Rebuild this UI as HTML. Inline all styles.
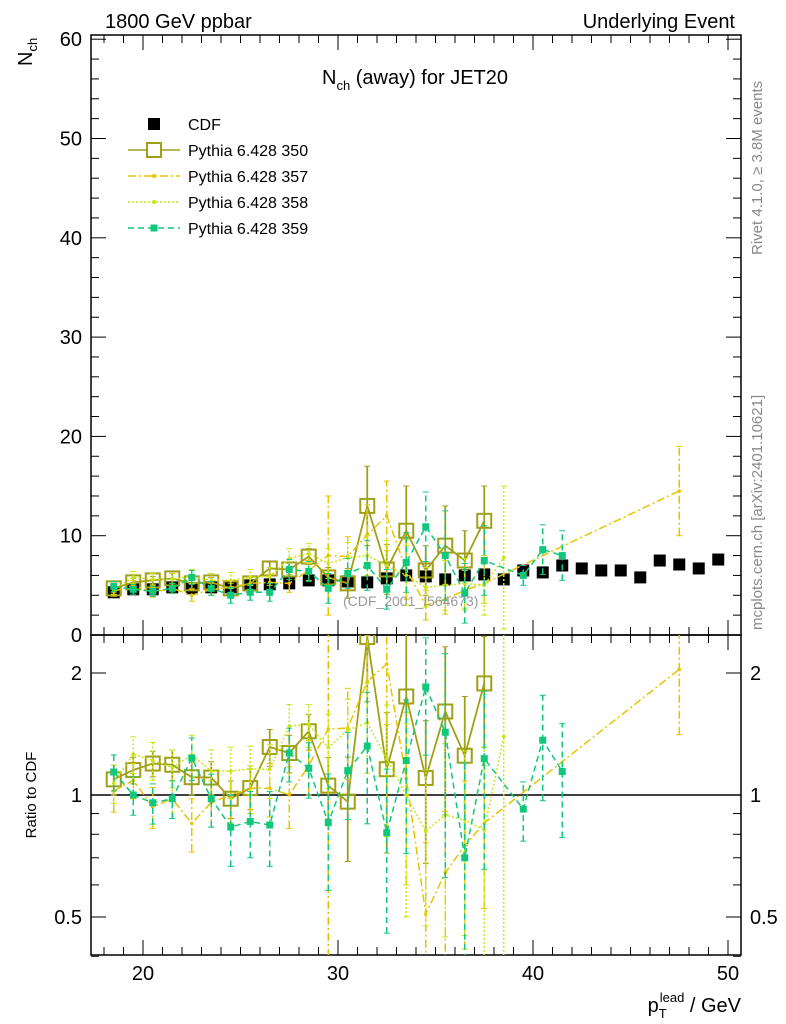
<!DOCTYPE html>
<html><head><meta charset="utf-8"><style>html,body{margin:0;padding:0;background:#fff;width:786px;height:1024px;overflow:hidden}svg{display:block;font-family:"Liberation Sans",sans-serif}</style></head>
<body>
<svg id="chart" width="786" height="1024" viewBox="0 0 786 1024">
<defs>
<clipPath id="cm"><rect x="91" y="35" width="650" height="600"/></clipPath>
<clipPath id="cr"><rect x="91" y="635" width="650" height="320"/></clipPath>
</defs>
<g id="main"></g>
<g id="ratio"></g>
<text x="105" y="28" font-size="20">1800 GeV ppbar</text>
<text x="735" y="28" font-size="20" text-anchor="end">Underlying Event</text>
<text transform="translate(32,66) rotate(-90)" font-size="20">N<tspan font-size="13" dy="5">ch</tspan></text>
<text x="415" y="84" font-size="20" text-anchor="middle">N<tspan font-size="13" dy="6">ch</tspan><tspan dy="-6"> (away) for JET20</tspan></text>
<text x="343" y="606" font-size="14" fill="#999">(CDF_2001_I564673)</text>
<text transform="translate(762,255) rotate(-90)" font-size="15" fill="#888">Rivet 4.1.0, ≥ 3.8M events</text>
<text transform="translate(762,630) rotate(-90)" font-size="15" fill="#888">mcplots.cern.ch [arXiv:2401.10621]</text>
<text transform="translate(36,795) rotate(-90)" font-size="15" text-anchor="middle">Ratio to CDF</text>
<text x="741" y="1012" font-size="20" text-anchor="end">p<tspan font-size="13" dy="6">T</tspan><tspan font-size="13" dx="-7" dy="-16">lead</tspan><tspan dy="10"> / GeV</tspan></text>
<g id="legend"></g>
</svg>
<script>
const xs=[18.5,19.5,20.5,21.5,22.5,23.5,24.5,25.5,26.5,27.5,28.5,29.5,30.5,31.5,32.5,33.5,34.5,35.5,36.5,37.5,38.5,39.5,40.5,41.5,42.5,43.5,44.5,45.5,46.5,47.5,48.5,49.5];
const cdf=[4.3,4.6,4.6,4.8,4.7,4.8,4.8,5.0,5.1,5.2,5.5,5.5,5.4,5.3,5.7,6.0,5.9,5.6,6.0,6.1,5.6,6.5,6.3,7.0,6.7,6.5,6.5,5.8,7.5,7.1,6.7,7.6];
const p350=[4.7,5.3,5.5,5.7,5.2,5.3,4.7,5.2,6.7,6.6,7.9,5.8,5.2,13.0,6.6,10.5,6.5,9.0,7.5,11.5,null,null,null,null,null,null,null,null,null,null,null,null];
const e350=[0.4,0.4,0.4,0.5,0.5,0.5,0.5,0.6,0.7,0.7,0.8,1.0,1.5,4.0,2.5,4.5,2.5,4.0,3.0,3.5,0,0,0,0,0,0,0,0,0,0,0,0];
const p357=[4.4,5.0,4.3,4.7,4.0,4.6,4.8,5.2,5.3,5.2,6.5,8.0,7.9,10.1,12.0,6.6,3.0,3.6,4.5,5.2,null,null,null,null,null,null,null,null,null,14.5,null,null];
const e357=[0.5,0.5,0.5,0.5,0.6,0.6,0.7,0.7,0.8,0.9,1.0,6.0,2.0,3.0,3.5,3.0,1.5,1.5,2.0,2.0,0,0,0,0,0,0,0,0,0,4.5,0,0];
const p358=[4.6,5.8,5.6,5.6,5.9,5.5,5.5,5.8,5.9,7.7,8.2,7.2,7.8,8.0,7.0,6.0,4.8,5.0,5.2,5.0,7.8,null,null,null,null,null,null,null,null,null,null,null];
const e358=[0.5,0.6,0.6,0.6,0.7,0.7,0.8,0.8,0.9,1.0,1.0,1.5,1.5,2.0,2.5,3.0,2.0,2.5,2.5,3.0,7.2,0,0,0,0,0,0,0,0,0,0,0];
const p359=[4.9,4.6,4.4,4.7,5.8,4.7,4.0,4.3,4.3,6.6,6.4,4.7,6.2,7.0,4.6,7.3,10.9,8.0,4.2,7.5,null,6.0,8.6,8.0,null,null,null,null,null,null,null,null];
const e359=[0.5,0.5,0.5,0.5,0.7,0.7,0.8,0.8,0.9,1.0,1.0,1.5,1.5,2.5,2.0,3.0,3.5,4.5,3.0,3.5,0,1.0,2.5,2.5,0,0,0,0,0,0,0,0];
const yTicks=[0,10,20,30,40,50,60];
const xTicks=[20,30,40,50];
const rTicks=[0.5,1,2];
const NS="http://www.w3.org/2000/svg";
const px=v=>143+(v-20)*19.5;
const py=v=>635-Math.max(-0.5,Math.min(62,v))*9.93;
const ry=r=>795-Math.log2(Math.max(0.35,Math.min(2.6,r)))*122;
function mk(t,a,p){const e=document.createElementNS(NS,t);for(const k in a)e.setAttribute(k,a[k]);(p||document.getElementById('chart')).appendChild(e);return e;}
const main=document.getElementById('main'),ratio=document.getElementById('ratio');
let f=mk('rect',{x:91,y:35,width:650,height:600,fill:'none',stroke:'#000','stroke-width':1.5},main);


f=mk('rect',{x:91,y:635,width:650,height:320,fill:'none',stroke:'#000','stroke-width':1.5},ratio);


for(let v=0;v<=60;v+=2){const y=py(v),L=v%10===0?15:8;mk('line',{x1:91,x2:91+L,y1:y,y2:y,stroke:'#000'},main);mk('line',{x1:741,x2:741-L,y1:y,y2:y,stroke:'#000'},main);}
yTicks.forEach(v=>{const t=mk('text',{x:82,y:py(v)+7,'font-size':20,'text-anchor':'end'},main);t.textContent=v;

});
for(let v=18;v<=50;v++){const x=px(v),L=v%10===0?15:8;mk('line',{x1:x,x2:x,y1:955,y2:955-L,stroke:'#000'});mk('line',{x1:x,x2:x,y1:635,y2:635-L,stroke:'#000'});mk('line',{x1:x,x2:x,y1:35,y2:35+L,stroke:'#000'});mk('line',{x1:x,x2:x,y1:635,y2:635+L,stroke:'#000'});}
xTicks.forEach(v=>{const t=mk('text',{x:px(v),y:980,'font-size':20,'text-anchor':'middle'});t.textContent=v;

});
[0.4,0.5,0.6,0.7,0.8,0.9,1,2].forEach(r=>{const y=ry(r),L=(r===0.5||r===1||r===2)?15:8;mk('line',{x1:91,x2:91+L,y1:y,y2:y,stroke:'#000'},ratio);mk('line',{x1:741,x2:741-L,y1:y,y2:y,stroke:'#000'},ratio);});
rTicks.forEach(r=>{let t=mk('text',{x:82,y:ry(r)+7,'font-size':20,'text-anchor':'end'},ratio);t.textContent=r;


t=mk('text',{x:750,y:ry(r)+7,'font-size':20},ratio);t.textContent=r;

});
mk('line',{x1:91,x2:741,y1:ry(1),y2:ry(1),stroke:'#000','stroke-width':1.5},ratio);
const gm=mk('g',{'clip-path':'url(#cm)'},main),gr=mk('g',{'clip-path':'url(#cr)'},ratio);
const series=[
{n:'pythia-350',v:p350,e:e350,c:'#a0a018',d:'',m:'open',w:1.8},
{n:'pythia-357',v:p357,e:e357,c:'#e8c400',d:'8,3,2,3',m:'dot',w:1.5},
{n:'pythia-358',v:p358,e:e358,c:'#c8e614',d:'2,2',m:'dot',w:1.5},
{n:'pythia-359',v:p359,e:e359,c:'#10c87c',d:'6,4',m:'sq',w:1.5}];
function drawSeries(s,g,fy,ratioMode){
 let pts=[];
 xs.forEach((x,i)=>{let v=s.v[i];if(v==null)return;let e=s.e[i];
  let val=ratioMode?v/cdf[i]:v,lo=ratioMode?Math.max(v-e,0.01)/cdf[i]:v-e,hi=ratioMode?(v+e)/cdf[i]:v+e;
  pts.push([px(x),fy(val)]);
  const eb=mk('line',{x1:px(x),x2:px(x),y1:fy(lo),y2:fy(hi),stroke:s.c,'stroke-width':s.w,'stroke-dasharray':s.d},g);
  
  
  [lo,hi].forEach(q=>mk('line',{x1:px(x)-3,x2:px(x)+3,y1:fy(q),y2:fy(q),stroke:s.c},g));});
 const pl=mk('polyline',{points:pts.map(p=>p.join(',')).join(' '),fill:'none',stroke:s.c,'stroke-width':s.w,'stroke-dasharray':s.d},g);
 
 
 pts.forEach(p=>{let m;
  if(s.m==='open')m=mk('rect',{x:p[0]-7,y:p[1]-7,width:14,height:14,fill:'none',stroke:s.c,'stroke-width':2},g);
  else if(s.m==='sq')m=mk('rect',{x:p[0]-3.5,y:p[1]-3.5,width:7,height:7,fill:s.c},g);
  else m=mk('circle',{cx:p[0],cy:p[1],r:1.8,fill:s.c},g);
  
  });
}
xs.forEach((x,i)=>{const m=mk('rect',{x:px(x)-6,y:py(cdf[i])-6,width:12,height:12,fill:'#000'},gm);

});
series.forEach(s=>{drawSeries(s,gm,py,false);drawSeries(s,gr,ry,true);});
const lg=document.getElementById('legend');
const le=[['CDF','#000','',null],['Pythia 6.428 350',series[0].c,'','open'],['Pythia 6.428 357',series[1].c,series[1].d,'dot'],['Pythia 6.428 358',series[2].c,series[2].d,'dot'],['Pythia 6.428 359',series[3].c,series[3].d,'sq']];
le.forEach((l,i)=>{const y=124+i*26;
 if(i===0){mk('rect',{x:148,y:y-6,width:12,height:12,fill:'#000'},lg);}
 else{mk('line',{x1:128,x2:180,y1:y,y2:y,stroke:l[1],'stroke-width':1.5,'stroke-dasharray':l[2]},lg);
  if(l[3]==='open')mk('rect',{x:147,y:y-7,width:14,height:14,fill:'#fff',stroke:l[1],'stroke-width':2},lg);
  else if(l[3]==='sq')mk('rect',{x:150.5,y:y-3.5,width:7,height:7,fill:l[1]},lg);
  else mk('circle',{cx:154,cy:y,r:2,fill:l[1]},lg);}
 const t=mk('text',{x:188,y:y+6,'font-size':16},lg);t.textContent=l[0];
 
 });
</script>
</body></html>
